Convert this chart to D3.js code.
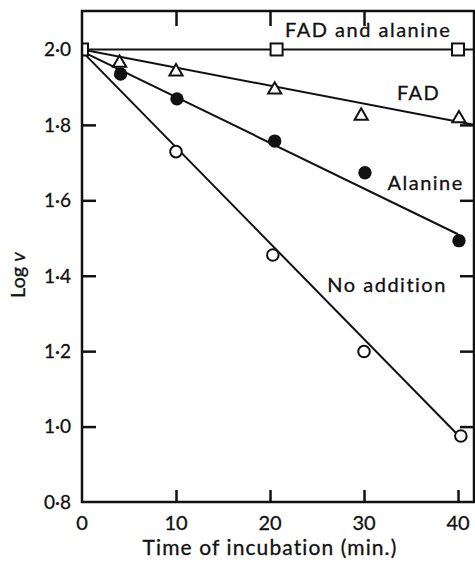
<!DOCTYPE html>
<html>
<head>
<meta charset="utf-8">
<script src="https://cdn.jsdelivr.net/npm/d3@7"></script>
<style>
  html, body { margin: 0; padding: 0; background: #fff; }
  text { font-family: Lato, "Open Sans", sans-serif; fill: #111; stroke: #111; stroke-width: 0.3px; }
</style>
</head>
<body>
<div id="chart"></div>
<script>
// time (min.) and log v
const fadAlanineTime = [0, 20.7, 40];
const fadAlanineLog = [2.0, 2.0, 2.0];

const fadTime = [4, 10, 20.5, 29.7, 40.1];
const fadLog = [1.964, 1.941, 1.893, 1.824, 1.817];

const alanineTime = [4.1, 10.1, 20.5, 30.1, 40.1];
const alanineLog = [1.935, 1.869, 1.757, 1.673, 1.493];

const noAdditionTime = [10, 20.3, 30, 40.3];
const noAdditionLog = [1.729, 1.455, 1.199, 0.975];

// drawn regression lines, start and end
const fadAlanineFit = [[0, 2.0], [41.7, 2.0]];
const fadFit = [[0, 2.0], [41.7, 1.80]];
const alanineFit = [[0, 1.995], [40, 1.51]];
const noAdditionFit = [[0, 1.995], [40.1, 0.975]];

const seriesNames = ['FAD and alanine', 'FAD', 'Alanine', 'No addition'];

const xTicks = [0, 10, 20, 30, 40];
const yTicks = [0.8, 1.0, 1.2, 1.4, 1.6, 1.8, 2.0];

const width = 475, height = 569;
const svg = d3.select('#chart').append('svg')
    .attr('width', width)
    .attr('height', height);

const x = d3.scaleLinear().domain([0, 41.7]).range([82, 474]);
const y = d3.scaleLinear().domain([0.8, 2.102]).range([502, 11]);

const fmt = d => d.toFixed(1).replace('.', '\u00b7');

svg.append('defs').append('clipPath').attr('id', 'plot')
    .append('rect')
    .attr('x', x(0)).attr('y', y(2.102))
    .attr('width', x(41.7) - x(0)).attr('height', y(0.8) - y(2.102));

const plot = svg.append('g').attr('clip-path', 'url(#plot)');

// fit lines
const line = d3.line().x(d => x(d[0])).y(d => y(d[1]));
[fadAlanineFit, fadFit, alanineFit, noAdditionFit].forEach(f => {
    plot.append('path')
        .attr('d', line(f))
        .attr('fill', 'none')
        .attr('stroke', '#111')
        .attr('stroke-width', 2);
});

const zip = (t, v) => t.map((d, i) => ({ t: d, v: v[i] }));

// squares
plot.selectAll('.sq')
    .data(zip(fadAlanineTime, fadAlanineLog))
    .enter().append('rect')
    .attr('x', d => x(d.t) - 6)
    .attr('y', d => y(d.v) - 6)
    .attr('width', 12).attr('height', 12)
    .attr('fill', '#fff').attr('stroke', '#111').attr('stroke-width', 2);

// triangles
plot.selectAll('.tri')
    .data(zip(fadTime, fadLog))
    .enter().append('path')
    .attr('transform', d => `translate(${x(d.t)},${y(d.v)})`)
    .attr('d', d3.symbol(d3.symbolTriangle, 75))
    .attr('fill', '#fff').attr('stroke', '#111').attr('stroke-width', 2);

// filled circles
plot.selectAll('.fc')
    .data(zip(alanineTime, alanineLog))
    .enter().append('circle')
    .attr('cx', d => x(d.t)).attr('cy', d => y(d.v))
    .attr('r', 6.7)
    .attr('fill', '#111');

// open circles
plot.selectAll('.oc')
    .data(zip(noAdditionTime, noAdditionLog))
    .enter().append('circle')
    .attr('cx', d => x(d.t)).attr('cy', d => y(d.v))
    .attr('r', 5.8)
    .attr('fill', '#fff').attr('stroke', '#111').attr('stroke-width', 2);

// frame
svg.append('rect')
    .attr('x', x(0)).attr('y', y(2.102))
    .attr('width', x(41.7) - x(0)).attr('height', y(0.8) - y(2.102))
    .attr('fill', 'none').attr('stroke', '#111').attr('stroke-width', 2.5);

// inward ticks
const leftAxis = d3.axisRight(y).tickValues(yTicks.slice(1, -1)).tickSize(14).tickFormat('');
svg.append('g').attr('transform', `translate(${x(0)},0)`).call(leftAxis);

const rightAxis = d3.axisLeft(y).tickValues(yTicks.slice(1, -1)).tickSize(14).tickFormat('');
svg.append('g').attr('transform', `translate(${x(41.7)},0)`).call(rightAxis);

const bottomAxis = d3.axisTop(x).tickValues(xTicks.slice(1)).tickSize(12).tickFormat('');
svg.append('g').attr('transform', `translate(0,${y(0.8)})`).call(bottomAxis);

const topAxis = d3.axisBottom(x).tickValues([10, 20, 30]).tickSize(15).tickFormat('');
svg.append('g').attr('transform', `translate(0,${y(2.102)})`).call(topAxis);

svg.selectAll('.domain').remove();
svg.selectAll('.tick line').attr('stroke', '#111').attr('stroke-width', 2.5);

// tick labels
svg.selectAll('.ylab')
    .data(yTicks)
    .enter().append('text')
    .attr('x', 71)
    .attr('y', d => y(d))
    .attr('dy', '0.36em')
    .attr('text-anchor', 'end')
    .style('font-size', '19px')
    .text(fmt);

svg.selectAll('.xlab')
    .data(xTicks)
    .enter().append('text')
    .attr('x', d => x(d))
    .attr('y', 530)
    .attr('text-anchor', 'middle')
    .style('font-size', '20px')
    .text(d => d);

// axis titles
svg.append('text')
    .attr('x', 270).attr('y', 555)
    .attr('text-anchor', 'middle')
    .style('font-size', '21px')
    .style('letter-spacing', '1.1px')
    .text('Time of incubation (min.)');

const ylab = svg.append('text')
    .attr('transform', 'translate(25,275) rotate(-90)')
    .attr('text-anchor', 'middle')
    .style('font-size', '20px');
ylab.append('tspan').text('Log ');
ylab.append('tspan').style('font-style', 'italic').text('v');

// series labels
const labelAt = [[21.6, 2.034], [33.5, 1.866], [32.5, 1.627], [26.1, 1.358]];
svg.selectAll('.slab')
    .data(seriesNames)
    .enter().append('text')
    .attr('x', (d, i) => x(labelAt[i][0]))
    .attr('y', (d, i) => y(labelAt[i][1]))
    .style('font-size', '20px')
    .style('letter-spacing', '1.5px')
    .text(d => d);
</script>
</body>
</html>
